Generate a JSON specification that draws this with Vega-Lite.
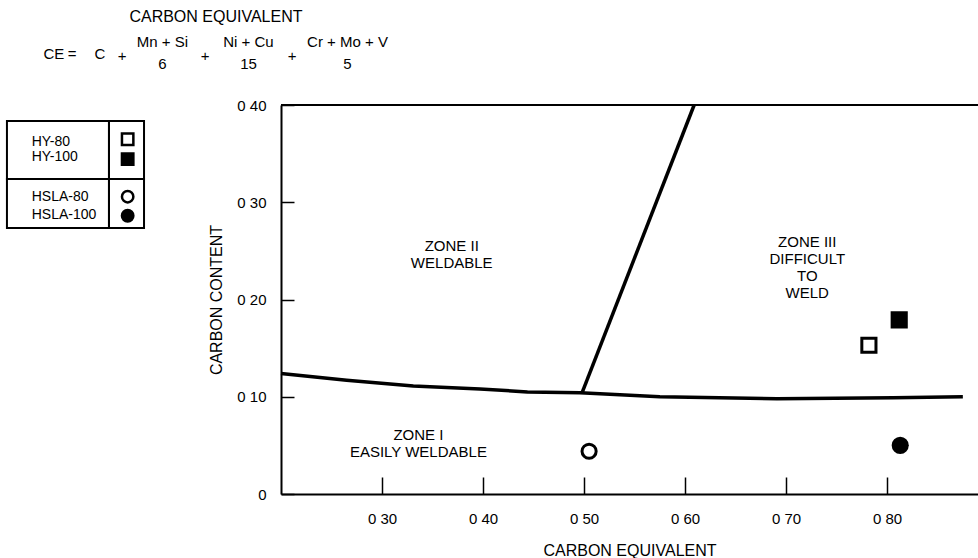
{
  "$schema": "https://vega.github.io/schema/vega-lite/v6.json",
  "width": 697,
  "height": 389,
  "autosize": {"type": "none"},
  "padding": {"left": 281, "top": 105, "right": 0, "bottom": 64},
  "background": "white",
  "config": {
    "view": {"stroke": null},
    "font": "Liberation Sans",
    "axis": {
      "grid": false,
      "domainColor": "black",
      "domainWidth": 2,
      "tickColor": "black",
      "tickWidth": 1.5,
      "labelColor": "black",
      "titleColor": "black",
      "labelFont": "Liberation Sans",
      "titleFont": "Liberation Sans",
      "labelFontSize": 15,
      "titleFontSize": 16,
      "titleFontWeight": "normal"
    }
  },
  "datasets": {
    "steels": [
      {"steel": "HY-80", "family": "HY", "grade": "80", "ce": 0.782, "carbon": 0.153},
      {"steel": "HY-100", "family": "HY", "grade": "100", "ce": 0.812, "carbon": 0.179},
      {"steel": "HSLA-80", "family": "HSLA", "grade": "80", "ce": 0.505, "carbon": 0.044},
      {"steel": "HSLA-100", "family": "HSLA", "grade": "100", "ce": 0.813, "carbon": 0.05}
    ],
    "boundaries": [
      {"boundary": "zone I / zone II", "ce": 0.2, "carbon": 0.124},
      {"boundary": "zone I / zone II", "ce": 0.265, "carbon": 0.117},
      {"boundary": "zone I / zone II", "ce": 0.331, "carbon": 0.111},
      {"boundary": "zone I / zone II", "ce": 0.397, "carbon": 0.108},
      {"boundary": "zone I / zone II", "ce": 0.444, "carbon": 0.105},
      {"boundary": "zone I / zone II", "ce": 0.496, "carbon": 0.104},
      {"boundary": "zone I / zone II", "ce": 0.575, "carbon": 0.1},
      {"boundary": "zone I / zone II", "ce": 0.691, "carbon": 0.098},
      {"boundary": "zone I / zone II", "ce": 0.806, "carbon": 0.099},
      {"boundary": "zone I / zone II", "ce": 0.875, "carbon": 0.1},
      {"boundary": "zone II / zone III", "ce": 0.498, "carbon": 0.104},
      {"boundary": "zone II / zone III", "ce": 0.609, "carbon": 0.4}
    ],
    "zones": [
      {"label": "ZONE I\nEASILY WELDABLE", "ce": 0.336, "carbon": 0.0607},
      {"label": "ZONE II\nWELDABLE", "ce": 0.369, "carbon": 0.2545},
      {"label": "ZONE III\nDIFFICULT\nTO\nWELD", "ce": 0.721, "carbon": 0.2596}
    ],
    "frame": [{"ce": 0.2, "ce2": 0.89, "carbon": 0.4}],
    "keyCells": [
      {"ce": -0.0713, "ce2": 0.0297, "carbon": 0.3835, "carbon2": 0.3239},
      {"ce": 0.0297, "ce2": 0.0644, "carbon": 0.3835, "carbon2": 0.3239},
      {"ce": -0.0713, "ce2": 0.0297, "carbon": 0.3239, "carbon2": 0.2735},
      {"ce": 0.0297, "ce2": 0.0644, "carbon": 0.3239, "carbon2": 0.2735}
    ],
    "keyLabels": [
      {"steel": "HY-80", "ce": -0.0468, "carbon": 0.3623},
      {"steel": "HY-100", "ce": -0.0468, "carbon": 0.3469},
      {"steel": "HSLA-80", "ce": -0.0468, "carbon": 0.3057},
      {"steel": "HSLA-100", "ce": -0.0468, "carbon": 0.2869}
    ],
    "keySymbols": [
      {"steel": "HY-80", "family": "HY", "grade": "80", "ce": 0.0482, "carbon": 0.3648},
      {"steel": "HY-100", "family": "HY", "grade": "100", "ce": 0.0482, "carbon": 0.3443},
      {"steel": "HSLA-80", "family": "HSLA", "grade": "80", "ce": 0.0482, "carbon": 0.3057},
      {"steel": "HSLA-100", "family": "HSLA", "grade": "100", "ce": 0.0482, "carbon": 0.2861}
    ],
    "heading": [
      {"text": "CARBON EQUIVALENT", "ce": 0.1356, "carbon": 0.4905}
    ],
    "equation": [
      {"text": "CE", "ce": -0.0248, "carbon": 0.4524},
      {"text": "=", "ce": -0.0069, "carbon": 0.4524},
      {"text": "C", "ce": 0.0208, "carbon": 0.4524},
      {"text": "+", "ce": 0.0426, "carbon": 0.4504},
      {"text": "Mn + Si", "ce": 0.0827, "carbon": 0.4648},
      {"text": "6", "ce": 0.0827, "carbon": 0.4422},
      {"text": "+", "ce": 0.1248, "carbon": 0.4504},
      {"text": "Ni + Cu", "ce": 0.1678, "carbon": 0.4648},
      {"text": "15", "ce": 0.1678, "carbon": 0.4422},
      {"text": "+", "ce": 0.2109, "carbon": 0.4504},
      {"text": "Cr + Mo + V", "ce": 0.2658, "carbon": 0.4648},
      {"text": "5", "ce": 0.2658, "carbon": 0.4422}
    ]
  },
  "encoding": {
    "x": {
      "field": "ce",
      "type": "quantitative",
      "scale": {"domain": [0.2, 0.89], "nice": false, "zero": false},
      "axis": {
        "values": [0.3, 0.4, 0.5, 0.6, 0.7, 0.8],
        "labelExpr": "replace(format(datum.value, '.2f'), '.', ' ')",
        "tickSize": -17,
        "labelPadding": 34,
        "title": "CARBON EQUIVALENT",
        "titlePadding": 16
      }
    },
    "y": {
      "field": "carbon",
      "type": "quantitative",
      "scale": {"domain": [0, 0.4], "nice": false, "zero": false},
      "axis": {
        "values": [0, 0.1, 0.2, 0.3, 0.4],
        "labelExpr": "datum.value == 0 ? '0' : replace(format(datum.value, '.2f'), '.', ' ')",
        "tickSize": -13,
        "labelPadding": 28,
        "title": "CARBON CONTENT",
        "titlePadding": 12
      }
    }
  },
  "layer": [
    {
      "data": {"name": "frame"},
      "mark": {"type": "rule", "color": "black", "strokeWidth": 2},
      "encoding": {"x2": {"field": "ce2"}}
    },
    {
      "data": {"name": "boundaries"},
      "mark": {"type": "line", "color": "black", "strokeWidth": 3.5, "strokeJoin": "round"},
      "encoding": {"detail": {"field": "boundary"}}
    },
    {
      "data": {"name": "steels"},
      "mark": {"type": "point", "stroke": "black", "strokeWidth": 3, "opacity": 1, "size": 200},
      "encoding": {
        "shape": {"field": "family", "type": "nominal", "scale": {"domain": ["HY", "HSLA"], "range": ["square", "circle"]}, "legend": null},
        "fill": {"field": "grade", "type": "nominal", "scale": {"domain": ["80", "100"], "range": ["white", "black"]}, "legend": null}
      }
    },
    {
      "data": {"name": "zones"},
      "mark": {"type": "text", "fontSize": 15, "lineBreak": "\n", "lineHeight": 17, "align": "center", "baseline": "middle", "color": "black"},
      "encoding": {"text": {"field": "label"}}
    },
    {
      "data": {"name": "keyCells"},
      "mark": {"type": "rect", "fill": null, "stroke": "black", "strokeWidth": 2},
      "encoding": {"x2": {"field": "ce2"}, "y2": {"field": "carbon2"}}
    },
    {
      "data": {"name": "keyLabels"},
      "mark": {"type": "text", "fontSize": 14, "align": "left", "baseline": "middle", "color": "black"},
      "encoding": {"text": {"field": "steel"}}
    },
    {
      "data": {"name": "keySymbols"},
      "mark": {"type": "point", "stroke": "black", "strokeWidth": 2.5, "opacity": 1, "size": 130},
      "encoding": {
        "shape": {"field": "family", "type": "nominal", "legend": null},
        "fill": {"field": "grade", "type": "nominal", "legend": null}
      }
    },
    {
      "data": {"name": "heading"},
      "mark": {"type": "text", "fontSize": 16, "align": "center", "baseline": "middle", "color": "black"},
      "encoding": {"text": {"field": "text"}}
    },
    {
      "data": {"name": "equation"},
      "mark": {"type": "text", "fontSize": 15, "align": "center", "baseline": "middle", "color": "black"},
      "encoding": {"text": {"field": "text"}}
    }
  ]
}
